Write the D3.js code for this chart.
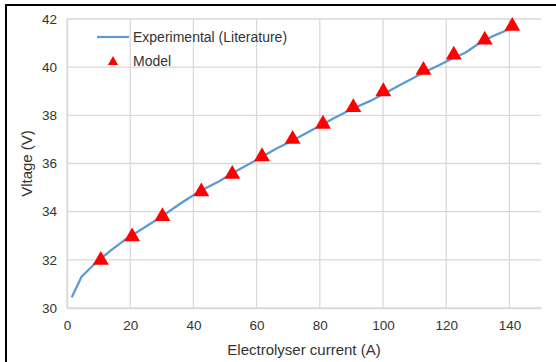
<!DOCTYPE html>
<html lang="en">
<head>
    <meta charset="UTF-8">
    <title>Voltage vs current</title>
    <style>
        body { margin: 0; background: #fff; }
        text {
        font-family: Arial, "Liberation Sans", sans-serif;
        font-size: 14px;
        fill: #333;
        }
    </style>
</head>
<body>
    <div id="chart"></div>
    <script src="https://d3js.org/d3.v7.min.js"></script>
    <script>

        // experimental curve (literature)
        var expCurrent = [1.5, 4.6, 9.5, 14, 18, 24, 30, 36, 42, 48, 54, 60, 66, 72, 78, 84, 90, 96, 100, 106, 112, 118, 121, 126, 130, 135, 139.5];
        var expVoltage = [30.45, 31.3, 31.93, 32.4, 32.8, 33.3, 33.8, 34.35, 34.85, 35.25, 35.72, 36.15, 36.6, 37.0, 37.42, 37.85, 38.25, 38.6, 38.88, 39.3, 39.72, 40.1, 40.3, 40.6, 40.95, 41.3, 41.55];

        // model points
        var modelCurrent = [10.7, 20.6, 30.2, 42.5, 52.3, 61.7, 71.4, 81, 90.6, 100.1, 112.8, 122.4, 132.2, 140.9];
        var modelVoltage = [32.03, 33.0, 33.84, 34.87, 35.6, 36.33, 37.05, 37.68, 38.37, 39.03, 39.92, 40.55, 41.17, 41.74];

        var xTicks = [0, 20, 40, 60, 80, 100, 120, 140];
        var yTicks = [30, 32, 34, 36, 38, 40, 42];

        var width = 556, height = 362;
        var margin = {top: 19, right: 15, bottom: 54, left: 67};

        var svg = d3.select("#chart").append("svg")
            .attr("width", width)
            .attr("height", height);

        // outer frame (cut off at right and bottom like the source)
        svg.append("rect")
            .attr("x", 6).attr("y", 5)
            .attr("width", 600).attr("height", 400)
            .attr("fill", "none")
            .attr("stroke", "#000")
            .attr("stroke-width", 2);

        var x = d3.scaleLinear().domain([0, 150]).range([margin.left, width - margin.right]);
        var y = d3.scaleLinear().domain([30, 42]).range([height - margin.bottom, margin.top]);

        // grid
        svg.append("g")
            .selectAll("line.h")
            .data(yTicks)
            .enter().append("line")
            .attr("x1", x(0)).attr("x2", x(150))
            .attr("y1", function(d) { return y(d); })
            .attr("y2", function(d) { return y(d); })
            .attr("stroke", "#d9d9d9")
            .attr("stroke-width", 1.3);

        svg.append("g")
            .selectAll("line.v")
            .data(xTicks)
            .enter().append("line")
            .attr("y1", y(30)).attr("y2", y(42))
            .attr("x1", function(d) { return x(d); })
            .attr("x2", function(d) { return x(d); })
            .attr("stroke", "#d9d9d9")
            .attr("stroke-width", 1.3);

        // axes
        var xAxis = svg.append("g")
            .attr("transform", "translate(0," + y(30) + ")")
            .call(d3.axisBottom(x).tickValues(xTicks).tickSize(0).tickPadding(12));
        var yAxis = svg.append("g")
            .attr("transform", "translate(" + x(0) + ",0)")
            .call(d3.axisLeft(y).tickValues(yTicks).tickSize(0).tickPadding(10));

        [xAxis, yAxis].forEach(function(a) {
            a.select(".domain").attr("stroke", "#d9d9d9").attr("stroke-width", 1.3);
            a.selectAll("text").attr("fill", "#333").style("font-size", "13.5px")
                .style("font-family", "Arial, 'Liberation Sans', sans-serif");
        });

        svg.append("text")
            .attr("x", (x(0) + x(150)) / 2)
            .attr("y", 355)
            .attr("text-anchor", "middle")
            .style("font-size", "15px")
            .text("Electrolyser current (A)");

        svg.append("text")
            .attr("transform", "translate(32," + ((y(30) + y(42)) / 2) + ") rotate(-90)")
            .attr("text-anchor", "middle")
            .style("font-size", "15px")
            .text("Vltage (V)");

        // experimental line
        var line = d3.line()
            .x(function(d, i) { return x(expCurrent[i]); })
            .y(function(d, i) { return y(expVoltage[i]); });

        svg.append("path")
            .datum(expVoltage)
            .attr("d", line)
            .attr("fill", "none")
            .attr("stroke", "#5b9bd5")
            .attr("stroke-width", 2.25)
            .attr("stroke-linejoin", "round");

        // model markers
        var tri = d3.symbol().type(d3.symbolTriangle).size(110);
        svg.append("g")
            .selectAll("path")
            .data(modelVoltage)
            .enter().append("path")
            .attr("d", tri)
            .attr("transform", function(d, i) { return "translate(" + x(modelCurrent[i]) + "," + (y(d) + 1) + ")"; })
            .attr("fill", "#ff0000");

        // legend
        var legend = svg.append("g");
        legend.append("line")
            .attr("x1", 97).attr("x2", 129)
            .attr("y1", 37).attr("y2", 37)
            .attr("stroke", "#5b9bd5")
            .attr("stroke-width", 2.25);
        legend.append("text")
            .attr("x", 133).attr("y", 42)
            .text("Experimental (Literature)");
        legend.append("path")
            .attr("d", d3.symbol().type(d3.symbolTriangle).size(45))
            .attr("transform", "translate(113,62)")
            .attr("fill", "#ff0000");
        legend.append("text")
            .attr("x", 133).attr("y", 66)
            .text("Model");

    </script>
</body>
</html>
